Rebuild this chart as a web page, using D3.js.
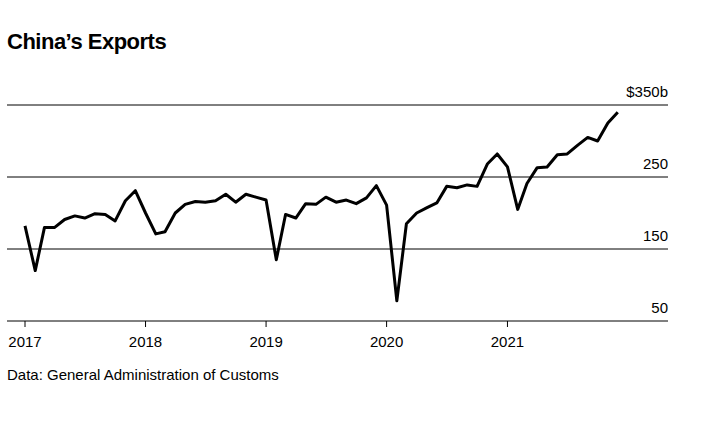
<!DOCTYPE html>
<html>
<head>
<meta charset="utf-8">
<script src="https://cdn.jsdelivr.net/npm/d3@7"></script>
<style>
  body { margin: 0; background: #fff; }
  text { font-family: "Liberation Sans", Arial, sans-serif; }
</style>
</head>
<body>
<div id="chart"></div>
<script>
// Monthly exports, $ billions, Jan 2017 .. Dec 2021
const startMonth = new Date(2017, 0, 1);
const exports2017 = [182, 120, 180, 180, 191, 196, 193, 199, 198, 189, 217, 231];
const exports2018 = [200, 171, 174, 200, 212, 216, 215, 217, 226, 215, 226, 222];
const exports2019 = [218, 135, 198, 193, 213, 212, 222, 215, 218, 213, 221, 238];
const exports2020 = [211, 78, 185, 200, 207, 214, 237, 235, 239, 237, 268, 282];
const exports2021 = [264, 205, 241, 263, 264, 281, 282, 294, 305, 300, 325, 340];
const yTicks = [50, 150, 250, 350];
const xTickYears = [2017, 2018, 2019, 2020, 2021];

const values = [].concat(exports2017, exports2018, exports2019, exports2020, exports2021);
const data = values.map((v, i) => ({ date: d3.timeMonth.offset(startMonth, i), value: v }));

const width = 704, height = 426;
const svg = d3.select('#chart').append('svg')
    .attr('width', width).attr('height', height);

const x = d3.scaleTime()
    .domain([new Date(2017, 0, 1), new Date(2022, 0, 1)])
    .range([25, 628]);
const y = d3.scaleLinear().domain([50, 350]).range([321, 105]);

// title
svg.append('text')
    .attr('x', 7).attr('y', 49)
    .style('font-size', '22px').style('font-weight', 'bold')
    .style('letter-spacing', '-0.5px')
    .text('China\u2019s Exports');

// gridlines + labels
yTicks.forEach(t => {
    if (t !== 50) {
        svg.append('line')
            .attr('x1', 7).attr('x2', 668)
            .attr('y1', y(t)).attr('y2', y(t))
            .attr('stroke', '#000').attr('stroke-width', 1);
    }
    svg.append('text')
        .attr('x', 668).attr('y', y(t) - 8)
        .attr('text-anchor', 'end')
        .style('font-size', '15px')
        .text(t === 350 ? '$350b' : t);
});

// x axis baseline + ticks
svg.append('line')
    .attr('x1', 7).attr('x2', 668)
    .attr('y1', y(50)).attr('y2', y(50))
    .attr('stroke', '#000').attr('stroke-width', 1);
xTickYears.forEach(yr => {
    const px = x(new Date(yr, 0, 1));
    svg.append('line')
        .attr('x1', px).attr('x2', px)
        .attr('y1', y(50)).attr('y2', y(50) + 6)
        .attr('stroke', '#000');
    svg.append('text')
        .attr('x', px).attr('y', y(50) + 26)
        .attr('text-anchor', 'middle')
        .style('font-size', '15px')
        .text(yr);
});

// line
const line = d3.line().x(d => x(d.date)).y(d => y(d.value));
svg.append('path').datum(data)
    .attr('d', line)
    .attr('fill', 'none')
    .attr('stroke', '#000')
    .attr('stroke-width', 3)
    .attr('stroke-linejoin', 'round');

// source
svg.append('text')
    .attr('x', 7).attr('y', 380)
    .style('font-size', '15px')
    .text('Data: General Administration of Customs');
</script>
</body>
</html>
